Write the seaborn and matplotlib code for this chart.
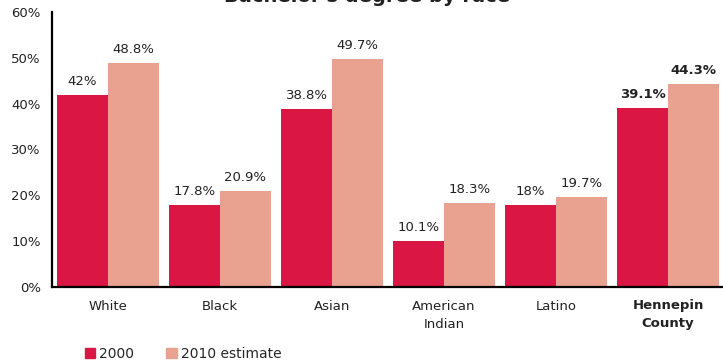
import matplotlib
matplotlib.use("Agg")
import matplotlib.pyplot as plt
import seaborn as sns
import pandas as pd
from matplotlib.patches import Patch
from matplotlib.ticker import FixedLocator

categories = ["White", "Black", "Asian", "American\nIndian", "Latino", "Hennepin\nCounty"]
series_names = ["2000", "2010 estimate"]
values_2000 = [42.0, 17.8, 38.8, 10.1, 18.0, 39.1]
values_2010 = [48.8, 20.9, 49.7, 18.3, 19.7, 44.3]
labels_2000 = ["42%", "17.8%", "38.8%", "10.1%", "18%", "39.1%"]
labels_2010 = ["48.8%", "20.9%", "49.7%", "18.3%", "19.7%", "44.3%"]
yticks = [0, 10, 20, 30, 40, 50, 60]
title = "Bachelor's degree by race"

colors = ["#DA1644", "#EAA290"]

sns.set_style("white")
plt.rcParams['font.family'] = ['DejaVu Sans']

df = pd.DataFrame({
    "category": categories * 2,
    "series": [series_names[0]] * len(categories) + [series_names[1]] * len(categories),
    "value": values_2000 + values_2010,
})

fig = plt.figure(figsize=(7.23, 3.64), dpi=100)
ax = fig.add_axes([52/723, 1 - 287/364, 672/723, 275/364])
sns.barplot(data=df, x="category", y="value", hue="series", palette=colors,
            width=0.91, gap=0, saturation=1, ax=ax, legend=False, errorbar=None,
            linewidth=0, edgecolor="none")

ax.set_xlim(-0.5, 5.5)
ax.set_ylim(0, 60)
ax.set_yticks(yticks)
ax.set_yticklabels([f"{t}%" for t in yticks], fontsize=9.5, color="#222222")
ax.set_xlabel("")
ax.set_ylabel("")

ax.set_xticks(range(len(categories)))
ax.set_xticklabels(categories, fontsize=9.5, color="#222222", linespacing=1.5)
ax.xaxis.set_minor_locator(FixedLocator([i + 0.5 for i in range(len(categories) - 1)]))
ax.tick_params(axis="x", which="major", length=0, pad=9)
ax.tick_params(axis="x", which="minor", length=5, width=1.5, color="black", direction="out")
ax.tick_params(axis="y", length=5, width=1.5, color="black", direction="out", pad=3)
for lbl in ax.get_xticklabels():
    if "Hennepin" in lbl.get_text():
        lbl.set_fontweight("bold")

for s in ["top", "right"]:
    ax.spines[s].set_visible(False)
for s in ["left", "bottom"]:
    ax.spines[s].set_color("black")
    ax.spines[s].set_linewidth(1.6)

for cont, labs in zip(ax.containers, [labels_2000, labels_2010]):
    texts = ax.bar_label(cont, labels=labs, padding=5, fontsize=9.5, color="#222222")
    texts[-1].set_fontweight("bold")

fig.text(0.508, 1.035, title, ha="center", va="top", fontsize=14, fontweight="bold", color="#222222")

handles = [Patch(color=colors[0], label=series_names[0]), Patch(color=colors[1], label=series_names[1])]
fig.legend(handles=handles, loc="lower left", bbox_to_anchor=(0.1, -0.025), ncol=2,
           frameon=False, fontsize=10, handlelength=0.75, handleheight=0.75,
           handletextpad=0.3, columnspacing=2.3)

fig.savefig("out.png", dpi=100)
